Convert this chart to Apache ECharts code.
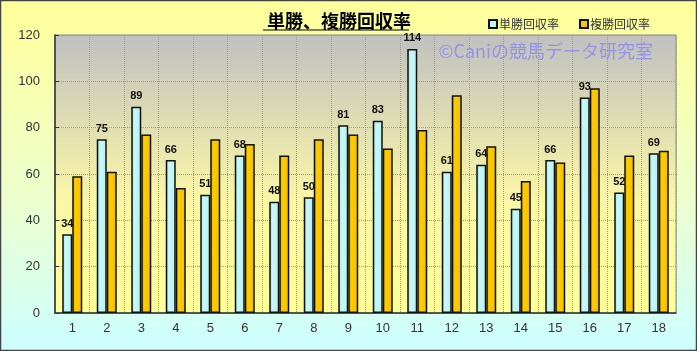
<!DOCTYPE html>
<html>
<head>
<meta charset="utf-8">
<script src="https://cdn.jsdelivr.net/npm/echarts@6/dist/echarts.min.js"></script>
<style>
  html, body { margin: 0; padding: 0; }
  #chart { width: 697px; height: 351px; }
</style>
</head>
<body>
<div id="chart"></div>
<script>
const categories = ['1', '2', '3', '4', '5', '6', '7', '8', '9', '10', '11', '12', '13', '14', '15', '16', '17', '18']
const tanshoValues = [34, 75, 89, 66, 51, 68, 48, 50, 81, 83, 114, 61, 64, 45, 66, 93, 52, 69]
const fukushoValues = [59, 61, 77, 54, 75, 73, 68, 75, 77, 71, 79, 94, 72, 57, 65, 97, 68, 70]
const seriesNames = ['単勝回収率', '複勝回収率']

const jpFont = '"Noto Sans CJK JP", sans-serif'
const numFont = '"Liberation Sans", Arial, sans-serif'

const chart = echarts.init(document.getElementById('chart'))

const vgrad = (stops) => ({ type: 'linear', x: 0, y: 0, x2: 0, y2: 1, colorStops: stops })
const hgrad = (stops) => ({ type: 'linear', x: 0, y: 0, x2: 1, y2: 0, colorStops: stops })

chart.setOption({
  animation: false,
  backgroundColor: vgrad([
    { offset: 0, color: '#ffff99' },
    { offset: 0.55, color: '#eeffcc' },
    { offset: 1, color: '#ccffff' },
  ]),
  title: {
    text: '単勝、複勝回収率',
    left: 262,
    top: 7,
    textStyle: { fontFamily: jpFont, fontSize: 18, fontWeight: 'bold', color: '#000' },
  },
  legend: {
    right: 42,
    top: 13,
    itemGap: 20,
    itemWidth: 8,
    itemHeight: 8,
    icon: 'rect',
    textStyle: { fontFamily: jpFont, fontSize: 12, color: '#333', padding: [0, 0, 0, -3] },
  },
  grid: {
    left: 55,
    right: 21,
    top: 35,
    bottom: 38,
    show: true,
    borderColor: '#888',
    borderWidth: 1,
    backgroundColor: vgrad([
      { offset: 0, color: '#c0c0c0' },
      { offset: 0.6, color: '#fbf7a6' },
      { offset: 1, color: '#ffff99' },
    ]),
  },
  xAxis: {
    type: 'category',
    data: categories,
    axisLine: { lineStyle: { color: '#333', width: 1.5 } },
    axisTick: { show: false },
    axisLabel: { fontFamily: numFont, fontSize: 13, color: '#333', margin: 9 },
    splitLine: { show: true, lineStyle: { color: '#999', type: 'dotted' } },
  },
  yAxis: {
    type: 'value',
    min: 0,
    max: 120,
    interval: 20,
    axisLine: { show: true, lineStyle: { color: '#333', width: 1.5 } },
    axisTick: { show: true, length: 4, inside: true, lineStyle: { color: '#333' } },
    axisLabel: { fontFamily: numFont, fontSize: 13, color: '#333', margin: 15 },
    splitLine: { lineStyle: { color: '#999', type: 'dotted' } },
  },
  series: [
    {
      name: seriesNames[0],
      type: 'bar',
      data: tanshoValues,
      barWidth: 10,
      barGap: '0%',
      itemStyle: {
        color: hgrad([
          { offset: 0, color: '#7fd0d0' },
          { offset: 0.3, color: '#c8f8f8' },
          { offset: 1, color: '#b8f0f0' },
        ]),
        borderColor: '#111',
        borderWidth: 1.5,
      },
      label: {
        show: true,
        position: 'top',
        distance: 5,
        fontFamily: numFont,
        fontSize: 11,
        fontWeight: 'bold',
        color: '#111',
      },
    },
    {
      name: seriesNames[1],
      type: 'bar',
      data: fukushoValues,
      barWidth: 10,
      barGap: '0%',
      itemStyle: {
        color: hgrad([
          { offset: 0, color: '#c99a00' },
          { offset: 0.3, color: '#ffcc00' },
          { offset: 1, color: '#f2c000' },
        ]),
        borderColor: '#111',
        borderWidth: 1.5,
      },
    },
  ],
  graphic: [
    {
      type: 'line',
      shape: { x1: 263, y1: 30, x2: 409, y2: 30 },
      style: { stroke: '#000', lineWidth: 1.2 },
      z: 10,
    },
    {
      type: 'text',
      right: 44,
      top: 42,
      style: {
        text: '©Caniの競馬データ研究室',
        fill: 'rgba(125, 125, 255, 0.7)',
        font: '18px ' + jpFont,
      },
      z: 10,
    },
    {
      type: 'rect',
      shape: { x: 0.5, y: 0.5, width: 696, height: 350 },
      style: { fill: 'none', stroke: '#444', lineWidth: 1.5 },
      z: 20,
    },
  ],
})
</script>
</body>
</html>
